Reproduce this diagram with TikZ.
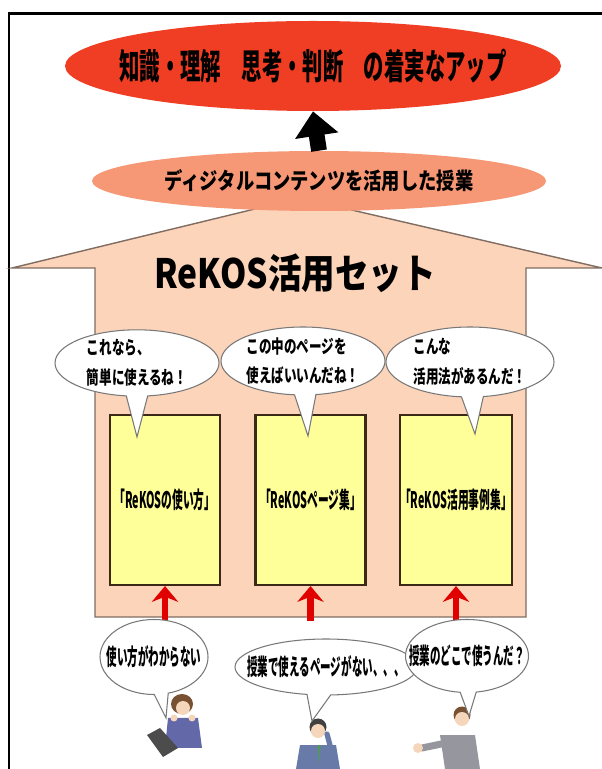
\documentclass[tikz,border=0pt]{standalone}
\usepackage{fontspec}
\usepackage{tikz}
\usetikzlibrary{arrows.meta,positioning,shapes.geometric,shapes.callouts}
\newfontfamily\jpfont{Noto Sans CJK JP}
\definecolor{rkred}{RGB}{240,62,36}
\definecolor{rksalmon}{RGB}{246,152,118}
\definecolor{rkpeach}{RGB}{252,212,186}
\definecolor{rkline}{RGB}{128,108,96}
\definecolor{rkyellow}{RGB}{255,255,153}
\definecolor{rkbrown}{RGB}{60,40,22}
\definecolor{rkgray}{RGB}{120,120,120}
\definecolor{rkskin}{RGB}{246,214,186}
\definecolor{rkhair}{RGB}{120,80,50}
\definecolor{rksuit}{RGB}{98,104,168}
\definecolor{rksuitb}{RGB}{104,122,168}
\definecolor{rksuitc}{RGB}{150,150,158}
\tikzset{
  rkgoal/.style={ellipse, fill=rkred, minimum width=9.92cm, minimum height=1.80cm,
    inner sep=0pt, font=\jpfont\bfseries\fontsize{20}{22}\selectfont\addfontfeatures{FakeStretch=0.58}},
  rkdesc/.style={ellipse, fill=rksalmon, minimum width=9.08cm, minimum height=1.20cm,
    inner sep=0pt, font=\jpfont\bfseries\fontsize{13}{15}\selectfont\addfontfeatures{FakeStretch=0.80}},
  rktitle/.style={font=\jpfont\bfseries\fontsize{23}{25}\selectfont\addfontfeatures{FakeStretch=0.83}},
  rkbook/.style={draw=rkbrown, line width=1.2pt, fill=rkyellow, minimum width=2.20cm,
    minimum height=3.40cm, inner sep=0pt,
    font=\jpfont\bfseries\fontsize{13}{15}\selectfont\addfontfeatures{FakeStretch=0.47}},
  rkvoice/.style={ellipse callout, draw=rkgray, line width=0.6pt, fill=white, inner sep=0pt,
    align=left, font=\jpfont\bfseries\fontsize{10.5}{17}\selectfont\addfontfeatures{FakeStretch=0.68}},
  rkworry/.style={ellipse callout, draw=rkgray, line width=0.6pt, fill=white, inner sep=0pt,
    font=\jpfont\bfseries\fontsize{13}{15}\selectfont\addfontfeatures{FakeStretch=0.46}},
  rkarrow/.style={-{Stealth[width=15pt,length=9pt]}, line width=3.8pt, draw=red!88!black},
  rkbig/.style={-{Triangle[width=24pt,length=14pt]}, line width=9pt, draw=black}
}

\begin{document}
\begin{tikzpicture}
  \useasboundingbox (0cm,0cm) rectangle (12.04cm,15.38cm);
  % frame
  \draw[line width=1.7pt] (0.18cm,0cm) -- (0.18cm,15.10cm) -- (12.04cm,15.10cm);

  % house
  \draw[draw=rkline, line width=0.8pt, fill=rkpeach] (0.24cm,10.02cm) -- (6.00cm,11.42cm)
    -- (12.04cm,10.02cm) -- (10.52cm,10.02cm) -- (10.52cm,3.04cm) -- (1.90cm,3.04cm)
    -- (1.90cm,10.02cm) -- cycle;
  \node[rktitle] (set) at (5.90cm,9.92cm) {ReKOS活用セット};

  % goal and lessons
  \node[rkgoal] (goal) at (6.26cm,14.06cm) {\makebox[0pt]{知識・理解　思考・判断　の着実なアップ}};
  \node[rkdesc] (desc) at (6.38cm,11.76cm) {ディジタルコンテンツを活用した授業};
  \draw[rkbig] (desc.north) -- (goal.south);

  % the three books
  \node[rkbook] (bkA) at (3.30cm,5.38cm) {「ReKOSの使い方」};
  \node[rkbook] (bkB) at (6.21cm,5.38cm) {「ReKOSページ集」};
  \node[rkbook] (bkC) at (9.12cm,5.38cm) {「ReKOS活用事例集」};

  % voices inside the house
  \coordinate (tA) at (2.74cm,6.64cm);
  \coordinate (tB) at (6.16cm,6.66cm);
  \coordinate (tC) at (9.50cm,6.70cm);
  \node[rkvoice, minimum width=3.28cm, minimum height=1.32cm, callout absolute pointer={(tA)}]
    (vA) at (2.74cm,8.12cm) {これなら、\\簡単に使えるね！};
  \node[rkvoice, minimum width=3.28cm, minimum height=1.36cm, callout absolute pointer={(tB)}]
    (vB) at (6.06cm,8.16cm) {この中のページを\\使えばいいんだね！};
  \node[rkvoice, minimum width=3.36cm, minimum height=1.40cm, callout absolute pointer={(tC)}]
    (vC) at (9.40cm,8.14cm) {こんな\\活用法があるんだ！};

  % red arrows from below
  \coordinate (uA) at (3.30cm,2.96cm);
  \coordinate (uB) at (6.21cm,2.96cm);
  \coordinate (uC) at (9.12cm,2.96cm);
  \draw[rkarrow] (uA) -- (bkA.south);
  \draw[rkarrow] (uB) -- (bkB.south);
  \draw[rkarrow] (uC) -- (bkC.south);

  % teachers
  \fill[rksuit] (3.36cm,1.02cm) -- (3.96cm,1.02cm) -- (4.04cm,0.42cm) -- (3.30cm,0.42cm) -- cycle;
  \fill[rkhair] (3.64cm,1.30cm) ellipse (0.22cm and 0.20cm);
  \fill[rkskin] (3.66cm,1.22cm) circle (0.14cm);
  \fill[rkskin] (3.48cm,1.02cm) circle (0.07cm) (3.84cm,1.02cm) circle (0.07cm);
  \fill[black!70] (2.94cm,0.68cm) -- (3.20cm,0.82cm) -- (3.56cm,0.42cm) -- (3.26cm,0.24cm) -- cycle;

  \fill[rksuitb] (6.00cm,0.48cm) -- (6.72cm,0.48cm) -- (6.80cm,0cm) -- (5.92cm,0cm) -- cycle;
  \fill[green!45!black!70] (6.36cm,0.48cm) -- (6.41cm,0.48cm) -- (6.39cm,0.10cm) -- cycle;
  \fill[black!75] (6.36cm,0.84cm) circle (0.17cm);
  \fill[rkskin] (6.36cm,0.76cm) circle (0.14cm);
  \draw[rksuitb, line width=3pt, line cap=round] (6.62cm,0.40cm) -- (6.54cm,0.70cm);

  \fill[rksuitc] (8.80cm,0.68cm) -- (9.50cm,0.68cm) -- (9.60cm,0cm) -- (8.90cm,0cm) -- cycle;
  \fill[rkhair] (9.24cm,1.08cm) circle (0.17cm);
  \fill[rkskin] (9.24cm,1.00cm) circle (0.14cm);
  \draw[rksuitc, line width=4pt, line cap=round] (8.92cm,0.52cm) -- (8.44cm,0.42cm);
  \fill[rkskin] (8.36cm,0.42cm) circle (0.10cm);

  % worries of the teachers
  \coordinate (wA) at (3.32cm,1.02cm);
  \coordinate (wB) at (6.24cm,0.96cm);
  \coordinate (wC) at (9.38cm,1.06cm);
  \node[rkworry, minimum width=2.16cm, minimum height=1.50cm, callout absolute pointer={(wA)}]
    (pA) at (3.08cm,2.24cm) {\makebox[0pt]{使い方がわからない}};
  \node[rkworry, minimum width=3.64cm, minimum height=1.12cm, callout absolute pointer={(wB)}]
    (pB) at (6.52cm,2.04cm) {\makebox[0pt]{授業で使えるページがない、、、}};
  \node[rkworry, minimum width=2.46cm, minimum height=1.46cm, callout absolute pointer={(wC)}]
    (pC) at (9.34cm,2.26cm) {\makebox[0pt]{授業のどこで使うんだ？}};
\end{tikzpicture}
\end{document}
